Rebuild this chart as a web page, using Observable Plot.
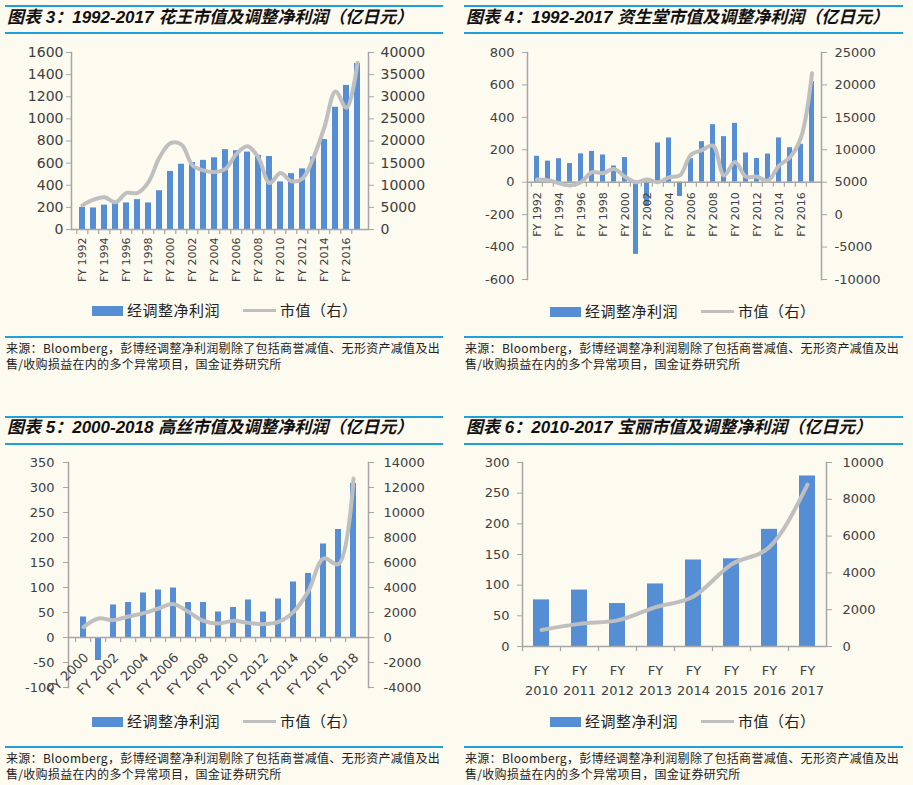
<!DOCTYPE html>
<html><head><meta charset="utf-8">
<script src="https://cdn.jsdelivr.net/npm/d3@7"></script>
<script src="https://cdn.jsdelivr.net/npm/@observablehq/plot@0.6"></script>
<style>
html,body{margin:0;padding:0}
body{background:#fdfaf0;width:913px;height:785px;position:relative;overflow:hidden;font-family:"Noto Sans CJK SC",sans-serif}
.rule{position:absolute;background:#1ea0dc}
.title{position:absolute;font-family:"Liberation Sans","Noto Sans CJK SC",sans-serif;font-weight:bold;font-style:italic;font-size:17px;color:#111;white-space:nowrap;line-height:20px}
.src{position:absolute;font-family:"Noto Sans CJK SC",sans-serif;font-size:12px;color:#222;line-height:16px;letter-spacing:0.3px;white-space:nowrap}
.lg{position:absolute;font-family:"Noto Sans CJK SC",sans-serif;font-size:15px;color:#222;line-height:20px;white-space:nowrap;letter-spacing:0.5px}
.sw{position:absolute}
.chart{position:absolute}
</style>
</head><body>
<script>
// ---------- data ----------
const kaoYears = ["1992","1993","1994","1995","1996","1997","1998","1999","2000","2001","2002","2003","2004","2005","2006","2007","2008","2009","2010","2011","2012","2013","2014","2015","2016","2017"];
const kaoProfit = [200,195,220,235,240,270,240,350,525,590,605,625,648,722,712,700,670,660,430,505,548,655,813,1105,1302,1500];
const kaoMcap = [5500,6750,7300,6150,8250,8250,10700,16300,19500,19200,14500,13350,13000,13700,17100,18800,16200,10500,12750,10900,11500,16300,23200,31200,27500,37700];
const kaoLeftTicks = [0,200,400,600,800,1000,1200,1400,1600];
const kaoRightTicks = [0,5000,10000,15000,20000,25000,30000,35000,40000];

const shiYears = ["1992","1993","1994","1995","1996","1997","1998","1999","2000","2001","2002","2003","2004","2005","2006","2007","2008","2009","2010","2011","2012","2013","2014","2015","2016","2017"];
const shiProfit = [160,130,145,115,175,190,168,100,152,-445,-150,242,273,-88,145,250,355,281,363,180,146,174,273,213,234,620];
const shiMcap = [5400,5300,4850,4500,5000,6550,6400,7050,5850,5000,5400,5000,5750,6050,9250,9950,10650,6050,8100,5850,5850,5250,7550,8850,11900,21800];
const shiLeftTicks = [-600,-400,-200,0,200,400,600,800];
const shiRightTicks = [-10000,-5000,0,5000,10000,15000,20000,25000];

const koseYears = ["2000","2001","2002","2003","2004","2005","2006","2007","2008","2009","2010","2011","2012","2013","2014","2015","2016","2017","2018"];
const koseProfit = [41,-46,65,70,89,95,99,70,70,51,60,75,51,77,111,128,187,216,308];
const koseMcap = [830,1520,1390,1680,1950,2320,2670,2050,1330,1120,1330,1170,1070,1250,2050,3730,6320,5870,12720];
const koseLeftTicks = [-100,-50,0,50,100,150,200,250,300,350];
const koseRightTicks = [-4000,-2000,0,2000,4000,6000,8000,10000,12000,14000];

const polaYears = ["2010","2011","2012","2013","2014","2015","2016","2017"];
const polaProfit = [76,92,70,102,141,143,191,278];
const polaMcap = [900,1230,1420,2140,2720,4460,5410,8800];
const polaLeftTicks = [0,50,100,150,200,250,300];
const polaRightTicks = [0,2000,4000,6000,8000,10000];

const titles = [
  "图表 3：1992-2017 花王市值及调整净利润（亿日元）",
  "图表 4：1992-2017 资生堂市值及调整净利润（亿日元）",
  "图表 5：2000-2018 高丝市值及调整净利润（亿日元）",
  "图表 6：2010-2017 宝丽市值及调整净利润（亿日元）"
];
const legendBar = "经调整净利润";
const legendLine = "市值（右）";
const sourceLines = ["来源：Bloomberg，彭博经调整净利润剔除了包括商誉减值、无形资产减值及出", "售/收购损益在内的多个异常项目，国金证券研究所"];

// ---------- style ----------
const BLUE = "#558ed5";
const GRAY = "#bfbfbf";
const AX = "#a6a6a6";
const TXT = "#404040";

function el(cls, css, text) {
  const d = document.createElement("div");
  d.className = cls;
  Object.assign(d.style, css);
  if (text != null) d.textContent = text;
  document.body.appendChild(d);
  return d;
}

function panel(c) {
  const toLeft = v => (v - c.off) / c.k;
  const fromLeft = v => v * c.k + c.off;
  const innerH = c.height - c.marginTop - c.marginBottom;
  const pxPerUnit = innerH / (c.yDomain[1] - c.yDomain[0]);
  const step = (c.width - c.marginLeft - c.marginRight) / c.cats.length;
  const rows = c.cats.map((cat, i) => ({cat, profit: c.profit[i], mcap: toLeft(c.mcap[i])}));
  const labelCats = c.cats.filter(d => +d % 2 === 0);
  const marks = [
    Plot.barY(rows, {x: "cat", y: "profit", fill: BLUE}),
    Plot.ruleY([0], {stroke: AX, strokeWidth: 1.5}),
    Plot.ruleX(c.cats, {x: d => d, dx: -step / 2, y1: 0, y2: -5 / pxPerUnit, stroke: AX, strokeWidth: 1.2}),
    Plot.line(rows, {x: "cat", y: "mcap", stroke: GRAY, strokeWidth: 4, curve: c.curve, strokeLinejoin: "round"}),
    Plot.axisY({anchor: "left", ticks: c.leftTicks, tickFormat: d => String(d), tickSize: 5, tickPadding: c.padL, stroke: AX, color: TXT, fontSize: c.fs, label: null}),
    Plot.axisY({anchor: "right", ticks: c.rightTicks.map(toLeft), tickFormat: d => String(Math.round(fromLeft(d))), tickSize: 5, tickPadding: c.padR, stroke: AX, color: TXT, fontSize: c.fs, label: null}),
    Plot.frame({anchor: "left", stroke: AX, strokeWidth: 1.5}),
    Plot.frame({anchor: "right", stroke: AX, strokeWidth: 1.5})
  ];
  if (c.labels === "bottom90") {
    marks.push(Plot.axisX({anchor: "bottom", ticks: labelCats, tickFormat: d => "FY " + d, tickRotate: -90, tickSize: 0, tickPadding: 8, fontSize: 11, color: TXT, label: null}));
  } else if (c.labels === "zero90") {
    marks.push(Plot.text(labelCats, {x: d => d, y: 0, text: d => "FY " + d, rotate: -90, textAnchor: "end", dy: 10, fontSize: 11, fill: TXT}));
  } else if (c.labels === "zero45") {
    marks.push(Plot.text(labelCats, {x: d => d, y: 0, text: d => "FY " + d, rotate: -45, textAnchor: "end", dx: 3, dy: 18, fontSize: 13, fill: TXT}));
  } else {
    marks.push(Plot.axisX({anchor: "bottom", tickFormat: d => "FY\n" + d, tickSize: 0, tickPadding: 14, lineHeight: 1.55, fontSize: 13, color: TXT, label: null}));
  }
  const svg = Plot.plot({
    width: c.width, height: c.height,
    marginLeft: c.marginLeft, marginRight: c.marginRight, marginTop: c.marginTop, marginBottom: c.marginBottom,
    x: {type: "band", domain: c.cats, paddingInner: c.pad, paddingOuter: c.pad / 2, axis: null, label: null},
    y: {domain: c.yDomain, axis: null, label: null},
    style: {background: "transparent", fontFamily: "DejaVu Sans, sans-serif", fontSize: c.fs + "px", color: TXT, overflow: "visible"},
    marks
  });
  const wrap = el("chart", {left: c.x0 + "px", top: c.svgTop + "px"});
  wrap.appendChild(svg);

  // title, rules
  el("rule", {left: c.ruleL + "px", width: c.ruleW + "px", top: c.ruleTop + "px", height: "2px"});
  el("title", {left: (c.ruleL + 2) + "px", top: (c.titleY - 10) + "px"}, c.title);
  el("rule", {left: c.ruleL + "px", width: c.ruleW + "px", top: (c.ruleTop + 27) + "px", height: "2px"});
  // legend
  el("sw", {left: c.lgBar + "px", top: (c.lgY - 5) + "px", width: "31px", height: "10px", background: BLUE});
  el("lg", {left: (c.lgBar + 35) + "px", top: (c.lgY - 11) + "px"}, legendBar);
  el("sw", {left: (c.lgBar + 151) + "px", top: (c.lgY - 1.5) + "px", width: "33px", height: "3px", background: GRAY});
  el("lg", {left: (c.lgBar + 188) + "px", top: (c.lgY - 11) + "px"}, legendLine);
  // source
  el("rule", {left: c.ruleL + "px", width: c.ruleW + "px", top: c.srcTop + "px", height: "1.5px"});
  el("src", {left: (c.ruleL + 1) + "px", top: (c.srcTop + 4) + "px"}, sourceLines[0]);
  el("src", {left: (c.ruleL + 1) + "px", top: (c.srcTop + 20) + "px"}, sourceLines[1]);
}

panel({x0: 0, svgTop: 40, width: 456, height: 260, marginLeft: 71, marginRight: 88, marginTop: 12, marginBottom: 71,
  cats: kaoYears, profit: kaoProfit, mcap: kaoMcap, yDomain: [0, 1600], leftTicks: kaoLeftTicks, rightTicks: kaoRightTicks,
  k: 25, off: 0, pad: 0.5, fs: 14, padL: 3, padR: 7, curve: "catmull-rom", labels: "bottom90",
  title: titles[0], ruleL: 5, ruleW: 438, ruleTop: 5, titleY: 18, lgBar: 92, lgY: 310.5, srcTop: 336});

panel({x0: 456, svgTop: 40, width: 457, height: 260, marginLeft: 71, marginRight: 92, marginTop: 12, marginBottom: 21,
  cats: shiYears, profit: shiProfit, mcap: shiMcap, yDomain: [-600, 800], leftTicks: shiLeftTicks, rightTicks: shiRightTicks,
  k: 25, off: 5000, pad: 0.55, fs: 13, padL: 8, padR: 8, curve: "catmull-rom", labels: "zero90",
  title: titles[1], ruleL: 464, ruleW: 439, ruleTop: 5, titleY: 18, lgBar: 550, lgY: 311.5, srcTop: 336});

panel({x0: 0, svgTop: 450, width: 456, height: 260, marginLeft: 68, marginRight: 88, marginTop: 12, marginBottom: 23,
  cats: koseYears, profit: koseProfit, mcap: koseMcap, yDomain: [-100, 350], leftTicks: koseLeftTicks, rightTicks: koseRightTicks,
  k: 40, off: 0, pad: 0.58, fs: 13, padL: 9, padR: 10, curve: "catmull-rom", labels: "zero45",
  title: titles[2], ruleL: 5, ruleW: 438, ruleTop: 416, titleY: 428, lgBar: 92, lgY: 721.5, srcTop: 746});

panel({x0: 456, svgTop: 450, width: 457, height: 260, marginLeft: 66, marginRight: 87, marginTop: 12, marginBottom: 64,
  cats: polaYears, profit: polaProfit, mcap: polaMcap, yDomain: [0, 300], leftTicks: polaLeftTicks, rightTicks: polaRightTicks,
  k: 100 / 3, off: 0, pad: 0.58, fs: 13, padL: 8, padR: 11, curve: "monotone-x", labels: "two",
  title: titles[3], ruleL: 464, ruleW: 439, ruleTop: 416, titleY: 428, lgBar: 550, lgY: 721.5, srcTop: 746});
</script>
</body></html>
